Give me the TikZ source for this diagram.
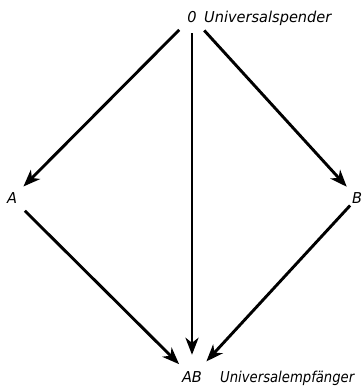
\documentclass[tikz,border=0pt]{standalone}
\usepackage{fontspec}
\usetikzlibrary{arrows.meta}
\newfontfamily\labfont{DejaVu Sans}[FakeStretch=0.97]
\newfontfamily\labfontn{DejaVu Sans}[FakeStretch=0.88]
\begin{document}
\begin{tikzpicture}[x=1pt,y=-1pt,
  lab/.style={font=\labfont\itshape\fontsize{15}{16}\selectfont, inner sep=0pt},
  labn/.style={font=\labfontn\itshape\fontsize{15}{16}\selectfont, inner sep=0pt},
  pt/.style={lab, circle, minimum size=30pt},
  arr/.style={line width=2.9pt, -{Stealth[length=17pt, width=13pt, inset=5pt]}}]
\useasboundingbox (0,0) rectangle (363,388);
\node[pt] (o) at (192,17) {0};
\node[pt] (a) at (12,198) {A};
\node[pt] (b) at (357,198) {B};
\node[pt] (ab) at (192,377) {AB};
\node[lab, anchor=base west] (t1) at (204,22) {Universalspender};
\node[labn, anchor=base west] (t2) at (220,382) {Universalempfänger};
\draw[arr, shorten <=3pt, shorten >=1pt] (o) -- (a);
\draw[arr, shorten <=1pt, shorten >=7pt] (o) -- (ab);
\draw[arr, shorten <=3pt, shorten >=0pt] (o) -- (b);
\draw[arr, shorten <=3pt, shorten >=3pt] (a) -- (ab);
\draw[arr, shorten <=-5pt, shorten >=6pt] (b) -- (ab);
\end{tikzpicture}
\end{document}
